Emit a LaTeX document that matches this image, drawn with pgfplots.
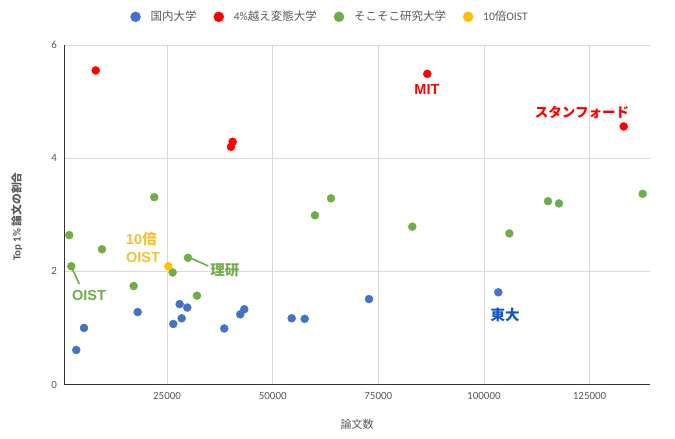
\documentclass[border=0pt]{standalone}
\usepackage{fontspec}
\setmainfont{Carlito}
\newfontfamily\jp{Noto Sans CJK JP}
\newfontfamily\arial{Liberation Sans}
\usepackage{pgfplots}
\pgfplotsset{compat=1.18}
\definecolor{cblue}{HTML}{4472C4}
\definecolor{cred}{HTML}{FF0000}
\definecolor{cgreen}{HTML}{70AD47}
\definecolor{cyellow}{HTML}{FFC000}
\definecolor{ltodai}{HTML}{1155CC}
\definecolor{loist}{HTML}{F1C232}
\definecolor{txt}{HTML}{595959}
\definecolor{gridc}{HTML}{D9D9D9}
\begin{document}
\begin{tikzpicture}
\path[use as bounding box] (0,0) rectangle (675pt,439pt);
\begin{axis}[
  at={(64pt,54.5pt)}, anchor=south west,
  scale only axis, width=586pt, height=339.5pt,
  xmin=600, xmax=139300, ymin=0, ymax=6,
  xtick={25000,50000,75000,100000,125000}, ytick={0,2,4,6},
  scaled x ticks=false,
  xticklabel style={/pgf/number format/fixed, /pgf/number format/precision=0, /pgf/number format/1000 sep={}, yshift=-4pt},
  yticklabel style={xshift=-3.5pt},
  /pgf/number format/assume math mode=true,
  tick label style={font=\fontsize{11}{13}\selectfont, text=txt},
  major tick length=0pt,
  axis lines*=left,
  axis line style={draw=black!80, line width=0.9pt},
  grid=major, grid style={draw=gridc, line width=0.9pt},
  xlabel={\jp 論文数},
  xlabel style={at={(axis description cs:0.5,0)}, anchor=center, yshift=-40pt, font=\fontsize{11}{13}\selectfont, text=txt},
  ylabel={\bfseries Top 1\% {\jp 論文の割合}},
  ylabel style={at={(axis description cs:-0.0805,0.495)}, anchor=center, font=\fontsize{10.8}{12}\selectfont, text=txt},
  legend columns=-1,
  legend style={at={(0.454,1.083)}, anchor=center, draw=none, fill=none,
    font=\fontsize{11.5}{13}\selectfont, text=txt,
    /tikz/every even column/.append style={column sep=15pt},
    inner sep=0pt},
  legend image code/.code={\fill[#1] (5pt,0pt) circle (5pt); \path[draw=none,fill=none] (0pt,0pt) (18pt,0pt);},
]
\addplot[only marks, mark=*, mark size=4pt, color=cblue] coordinates {
 (3500,0.61) (5330,1.00) (18040,1.28) (26460,1.07) (27980,1.42) (28450,1.17)
 (29780,1.36) (38530,0.99) (42320,1.24) (43270,1.33) (54490,1.17) (57560,1.16)
 (72790,1.51) (103400,1.63)
};
\addlegendentry{\jp 国内大学}
\addplot[only marks, mark=*, mark size=4pt, color=cred] coordinates {
 (8100,5.55) (40120,4.20) (40520,4.29) (86590,5.49) (133070,4.56)
};
\addlegendentry{4\%{\jp 越え変態大学}}
\addplot[only marks, mark=*, mark size=4pt, color=cgreen] coordinates {
 (1850,2.64) (2320,2.09) (9590,2.39) (17090,1.74) (21960,3.31) (26320,1.98)
 (29940,2.24) (32070,1.57) (60000,2.99) (63790,3.29) (83040,2.79) (106000,2.67)
 (115160,3.24) (117760,3.20) (137570,3.37)
};
\addlegendentry{\jp そこそこ研究大学}
\addplot[only marks, mark=*, mark size=4pt, color=cyellow] coordinates {
 (25280,2.09)
};
\addlegendentry{10{\jp 倍}OIST}
% annotations
\draw[cgreen, line width=1.6pt] (axis cs:2414,2.071) -- (axis cs:4213,1.776);
\draw[cgreen, line width=1.6pt] (axis cs:30420,2.241) -- (axis cs:34750,2.094);
\node[text=cred, font=\arial\bfseries\fontsize{14.5}{16}\selectfont] at (axis cs:86510,5.205) {MIT};
\node[text=cred, font=\jp\bfseries\fontsize{13.5}{16}\selectfont] at (axis cs:123200,4.804) {スタンフォード};
\node[text=ltodai, font=\jp\bfseries\fontsize{14.5}{16}\selectfont] at (axis cs:104980,1.228) {東大};
\node[text=cgreen, font=\arial\bfseries\fontsize{14.5}{16}\selectfont] at (axis cs:6510,1.577) {OIST};
\node[text=cgreen, font=\jp\bfseries\fontsize{14.5}{16}\selectfont] at (axis cs:38700,2.024) {理研};
\node[text=loist, anchor=west, align=left, inner sep=0pt, font=\arial\bfseries\fontsize{14.5}{18}\selectfont] at (axis cs:15270,2.418) {10{\jp 倍}\\OIST};
\end{axis}
\end{tikzpicture}
\end{document}
